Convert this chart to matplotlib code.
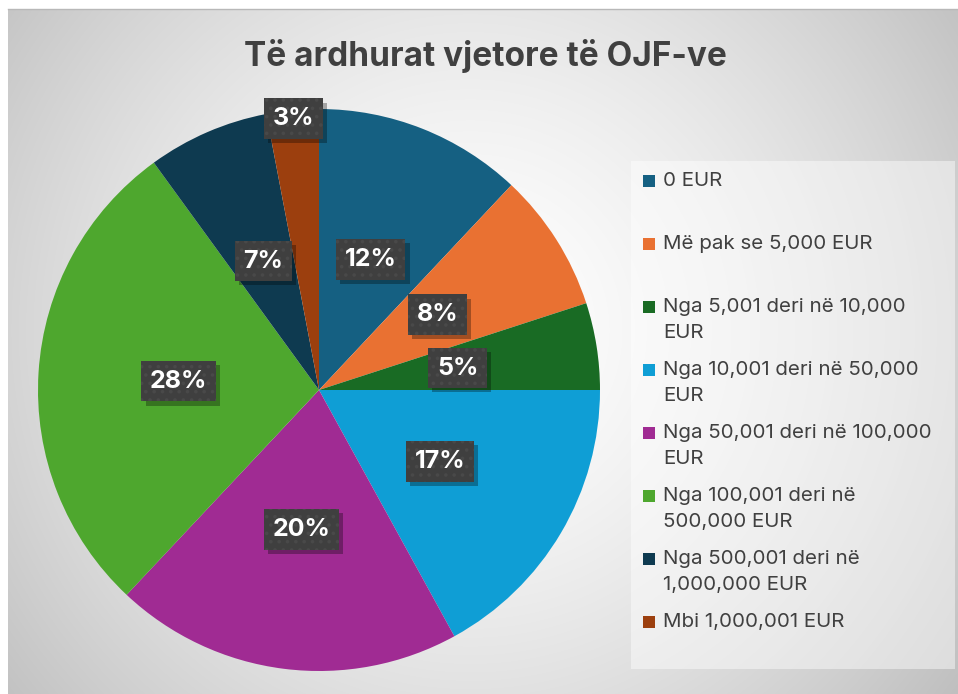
import textwrap
import numpy as np
import matplotlib
matplotlib.use("Agg")
import matplotlib.pyplot as plt
import matplotlib.patheffects as pe
from matplotlib.patches import Rectangle

# data
categories = ["0 EUR", "Më pak se 5,000 EUR", "Nga 5,001 deri në 10,000 EUR",
              "Nga 10,001 deri në 50,000 EUR", "Nga 50,001 deri në 100,000 EUR",
              "Nga 100,001 deri në 500,000 EUR", "Nga 500,001 deri në 1,000,000 EUR",
              "Mbi 1,000,001 EUR"]
shares = [12, 8, 5, 17, 20, 28, 7, 3]
colors = ["#156082", "#E97132", "#196B24", "#0F9ED5", "#A02B93", "#4EA72E",
          "#0E3A50", "#9C3F0E"]
title = "Të ardhurat vjetore të OJF-ve"

plt.rcParams["font.family"] = ["Inter", "DejaVu Sans"]
plt.rcParams["hatch.linewidth"] = 1.4

W, H = 958, 694
fig = plt.figure(figsize=(W / 100, H / 100), dpi=100)
fig.patch.set_facecolor("white")


def px_axes(x0, y0, x1, y1, **kw):
    # axes from pixel box (top-left origin)
    return fig.add_axes([x0 / W, 1 - y1 / H, (x1 - x0) / W, (y1 - y0) / H], **kw)


# background radial gradient of the chart area
bg = px_axes(8, 9, W, H)
yy, xx = np.mgrid[9:H, 8:W]
d = np.hypot(xx - 470, yy - 330) / 590.0
val = 1 - 0.24 * np.clip(d, 0, 1.2) ** 1.5
bg.imshow(np.dstack([val, val, val]), aspect="auto", extent=(0, 1, 0, 1))
bg.set_axis_off()
fig.add_artist(plt.Line2D([8 / W, 1], [1 - 9 / H, 1 - 9 / H], color="#b8b8b8", lw=1))

fig.text(485 / W, 1 - 56 / H, title, ha="center", va="center", fontsize=24,
         fontweight="bold", color="#404040")

# pie
cx, cy, r = 319, 390, 281
ax = px_axes(cx - r, cy - r, cx + r, cy + r)
wedges, _, autotexts = ax.pie(shares, colors=colors, startangle=90, counterclock=False,
                              autopct="%d%%", pctdistance=0.5,
                              wedgeprops=dict(linewidth=0))
ax.set_xlim(-1, 1)
ax.set_ylim(-1, 1)
ax.set_aspect("equal")

# smallest slice label sits at the rim
w = wedges[-1]
mid = np.deg2rad((w.theta1 + w.theta2) / 2)
autotexts[-1].set_position((0.97 * np.cos(mid), 0.97 * np.sin(mid)))

for t in autotexts:
    t.set_color("white")
    t.set_fontsize(18)
    t.set_fontweight("bold")
    t.set_bbox(dict(boxstyle="square,pad=0.35", facecolor="#3f3f3f",
                    edgecolor="#494949", hatch="..", linewidth=0))
    t.get_bbox_patch().set_path_effects([
        pe.SimplePatchShadow(offset=(3, -3), shadow_rgbFace="black", alpha=0.3, hatch=None),
        pe.Normal()])

# legend box
lx0, ly0, lx1, ly1 = 631, 161, 955, 669
lax = px_axes(lx0, ly0, lx1, ly1)
lax.set_xlim(0, lx1 - lx0)
lax.set_ylim(ly1 - ly0, 0)
lax.set_facecolor((1, 1, 1, 0.45))
for s in lax.spines.values():
    s.set_visible(False)
lax.set_xticks([])
lax.set_yticks([])

step = 63
for i, (lab, col) in enumerate(zip(categories, colors)):
    yc = 20 + i * step
    lax.add_patch(Rectangle((12, yc - 6), 12, 12, facecolor=col, edgecolor="none"))
    lax.text(32, yc - 9, textwrap.fill(lab, 26), ha="left", va="top", fontsize=14.8,
             color="#404040", linespacing=1.55)

fig.savefig("out.png", dpi=100)
